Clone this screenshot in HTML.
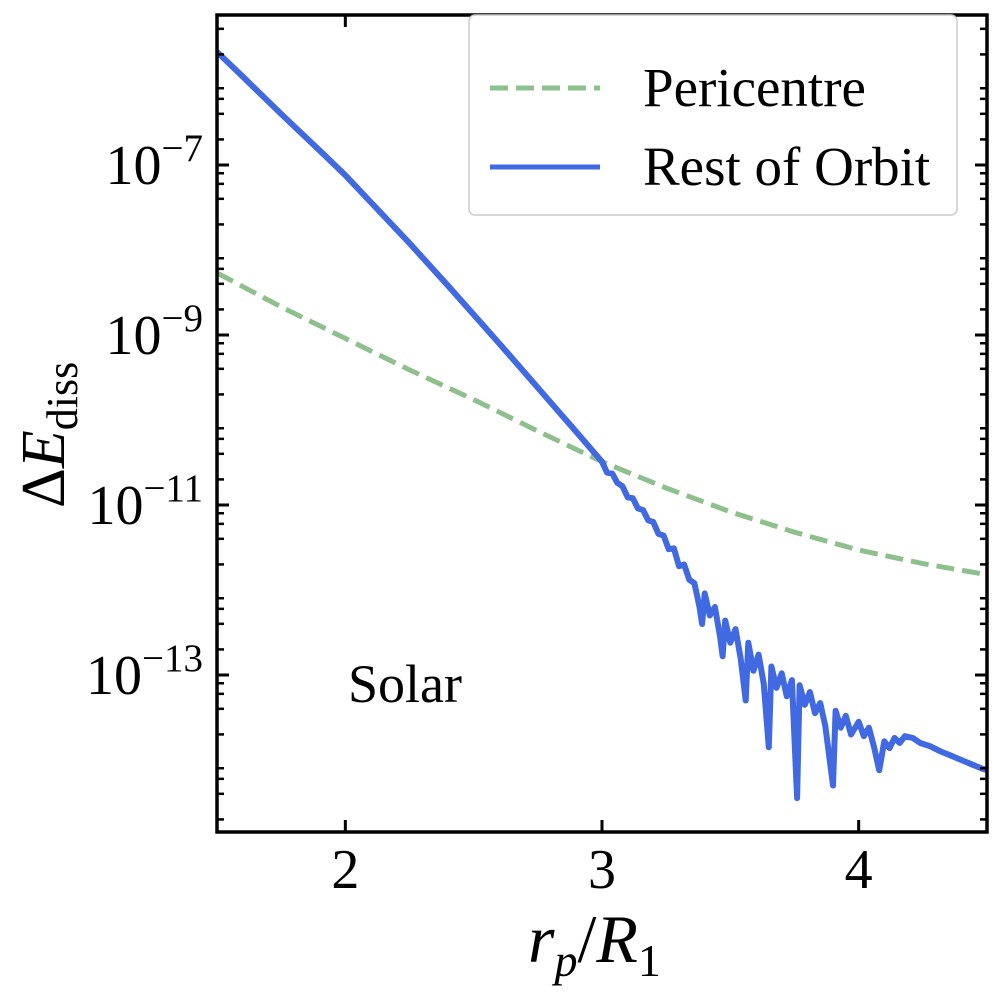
<!DOCTYPE html>
<html><head><meta charset="utf-8"><style>
body{margin:0;background:#fff}
svg text{font-family:"Liberation Serif",serif;fill:#000}
</style></head><body>
<svg id="chart" width="1000" height="993" viewBox="0 0 1000 993" xmlns="http://www.w3.org/2000/svg">
<g id="plot"></g>
<g id="axes"></g>
<text x="348" y="702" font-size="54">Solar</text>
<text x="528" y="962" font-size="68" font-style="italic">r<tspan font-size="46" dy="14">p</tspan><tspan dy="-14" font-style="normal">/</tspan>R<tspan font-size="46" dy="14" font-style="normal">1</tspan></text>
<text transform="translate(64,508) rotate(-90)" font-size="62"><tspan>Δ</tspan><tspan font-style="italic">E</tspan><tspan font-size="44" dy="13">diss</tspan></text>
<g>
<rect x="469" y="15" width="488" height="200" rx="6" fill="#fff" stroke="#ccc" stroke-width="1.5"/>
<line x1="490" y1="88" x2="600" y2="88" stroke="#8fbf8c" stroke-width="5" stroke-dasharray="18,8"/>
<text x="643" y="106" font-size="55">Pericentre</text>
<line x1="490" y1="167" x2="600" y2="167" stroke="#4169e1" stroke-width="5"/>
<text x="643" y="185" font-size="55">Rest of Orbit</text>
</g>
</svg>
<script>
// data (log10 of ΔE)
const xTicks=[2,3,4];
const yTicks=[-13,-11,-9,-7];
const periX=[1.5,1.75,2.0,2.25,2.5,2.75,3.0,3.25,3.5,3.75,4.0,4.25,4.5];
const periY=[-8.27,-8.67,-9.04,-9.41,-9.76,-10.13,-10.49,-10.80,-11.08,-11.32,-11.53,-11.69,-11.82];
const restX=[1.5,1.6,1.75,1.9,2.0,2.1,2.25,2.4,2.5,2.6,2.75,2.9,
3.00,3.02,3.04,3.06,3.08,3.10,3.12,3.14,3.16,3.18,3.20,3.22,3.24,3.26,3.28,3.30,3.32,3.34,3.36,3.38,3.39,3.40,3.42,3.44,3.46,3.47,3.48,3.50,3.52,3.54,3.56,3.57,3.59,3.61,3.63,3.65,3.66,3.68,3.70,3.72,3.74,3.76,3.77,3.79,3.81,3.83,3.85,3.87,3.90,3.91,3.93,3.95,3.97,4.00,4.02,4.04,4.06,4.08,4.10,4.12,4.14,4.16,4.18,4.21,4.24,4.28,4.32,4.36,4.40,4.44,4.48,4.50];
const restY=[-5.67,-5.96,-6.40,-6.83,-7.12,-7.44,-7.92,-8.42,-8.76,-9.10,-9.62,-10.14,
-10.49,-10.62,-10.63,-10.74,-10.78,-10.91,-10.92,-11.04,-11.06,-11.18,-11.20,-11.34,-11.36,-11.52,-11.51,-11.72,-11.70,-11.88,-11.92,-12.20,-12.40,-12.04,-12.30,-12.20,-12.55,-12.78,-12.36,-12.62,-12.46,-12.80,-13.30,-12.62,-12.95,-12.76,-13.10,-13.85,-12.90,-13.15,-12.98,-13.25,-13.06,-14.45,-13.12,-13.35,-13.20,-13.45,-13.33,-13.60,-14.30,-13.42,-13.62,-13.48,-13.70,-13.55,-13.72,-13.62,-13.85,-14.12,-13.78,-13.86,-13.74,-13.80,-13.72,-13.74,-13.80,-13.84,-13.90,-13.95,-14.00,-14.05,-14.10,-14.12];
const X0=217,X1=987,Y0=15,Y1=832,xmin=1.5,xmax=4.5;
const xs=v=>X0+(v-xmin)/(xmax-xmin)*(X1-X0);
const ys=L=>165-(L+7)*85;
const NS='http://www.w3.org/2000/svg';
function mk(tag,attrs,parent){const e=document.createElementNS(NS,tag);for(const k in attrs)e.setAttribute(k,attrs[k]);parent.appendChild(e);return e;}
const plot=document.getElementById('plot'),axes=document.getElementById('axes');
const cp=mk('clipPath',{id:'clip'},plot);mk('rect',{x:X0,y:Y0,width:X1-X0,height:Y1-Y0},cp);
const pathOf=(xa,ya)=>xa.map((x,i)=>(i?'L':'M')+xs(x).toFixed(1)+','+ys(ya[i]).toFixed(1)).join('');
const g=mk('path',{d:pathOf(periX,periY),fill:'none',stroke:'#8fbf8c','stroke-width':5,'stroke-dasharray':'18,8','clip-path':'url(#clip)'},plot);


const b=mk('path',{d:pathOf(restX,restY),fill:'none',stroke:'#4169e1','stroke-width':6,'stroke-linejoin':'round','clip-path':'url(#clip)'},plot);


// ticks
for(const t of xTicks){const x=xs(t);
 const a=mk('line',{x1:x,y1:Y1,x2:x,y2:Y1-12,stroke:'#000','stroke-width':3},axes);
 
 
 mk('line',{x1:x,y1:Y0,x2:x,y2:Y0+12,stroke:'#000','stroke-width':3},axes);
 const tx=mk('text',{x:x,y:888,'font-size':56,'text-anchor':'middle'},axes);tx.textContent=t;
 
 }
for(let d=-15;d<=-5;d++){for(const m of [2,4,6,8]){const y=ys(d+Math.log10(m));if(y<Y0||y>Y1)continue;
 mk('line',{x1:X0,y1:y,x2:X0+7,y2:y,stroke:'#000','stroke-width':2.5},axes);
 mk('line',{x1:X1,y1:y,x2:X1-7,y2:y,stroke:'#000','stroke-width':2.5},axes);}}
for(const t of yTicks){const y=ys(t);
 mk('line',{x1:X0,y1:y,x2:X0+12,y2:y,stroke:'#000','stroke-width':3},axes);
 mk('line',{x1:X1,y1:y,x2:X1-12,y2:y,stroke:'#000','stroke-width':3},axes);
 const tx=mk('text',{x:203,y:y+19,'font-size':56,'text-anchor':'end'},axes);
 
 
 tx.innerHTML='10<tspan font-size="39" dy="-23">−'+(-t)+'</tspan>';}
const fr=mk('rect',{x:X0,y:Y0,width:X1-X0,height:Y1-Y0,fill:'none',stroke:'#000','stroke-width':3.5},axes);


</script>
</body></html>
